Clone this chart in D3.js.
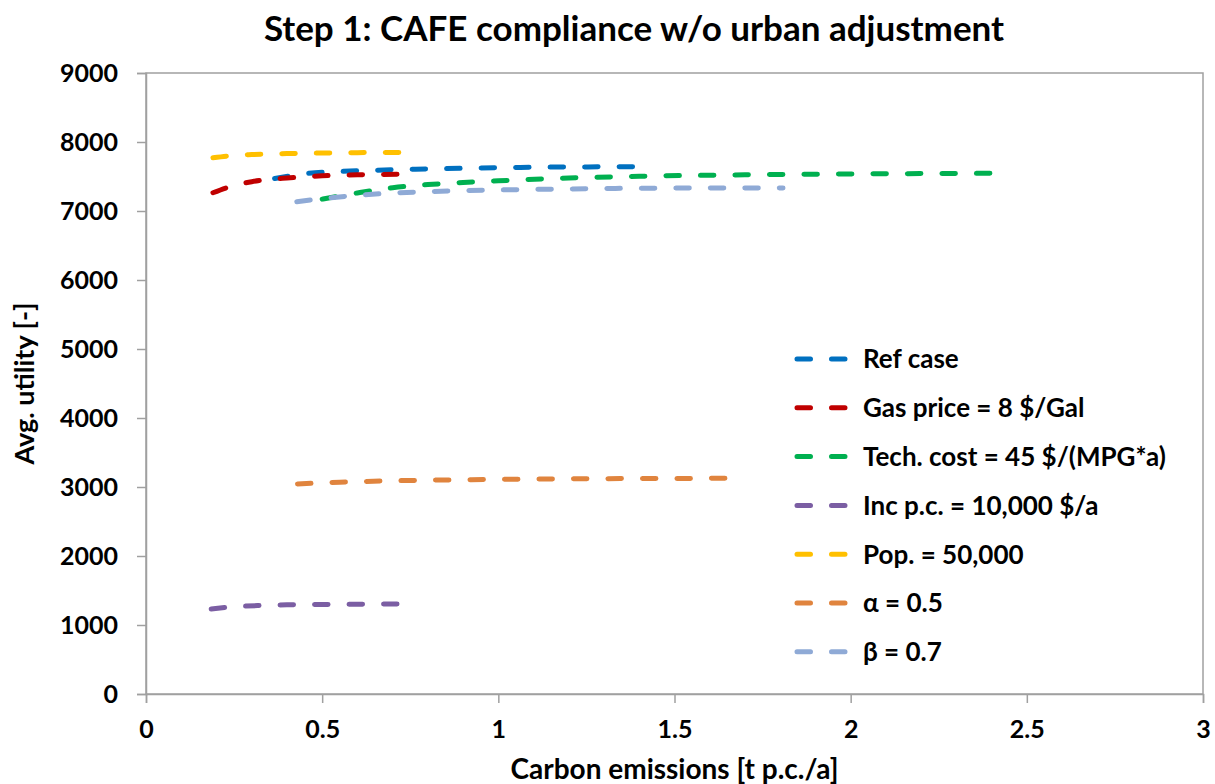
<!DOCTYPE html>
<html>
<head>
<meta charset="utf-8">
<script src="https://cdn.jsdelivr.net/npm/d3@7"></script>
<style>
  html, body { margin: 0; padding: 0; background: #fff; }
  svg { display: block; font-family: Lato, "Open Sans", sans-serif; font-weight: bold; }
</style>
</head>
<body>
<svg id="chart" width="1215" height="784"></svg>
<script>
// Scenario results: carbon emissions [t p.c./a] vs. average utility
const refX   = [0.365, 0.45, 0.55, 0.7, 0.8, 0.9, 1.0, 1.1, 1.25, 1.397];
const refY   = [7470, 7540, 7572, 7598, 7609, 7619, 7628, 7634, 7639, 7642];

const gasX   = [0.19, 0.25, 0.3, 0.35, 0.4, 0.5, 0.6, 0.73];
const gasY   = [7265, 7370, 7425, 7458, 7478, 7510, 7525, 7533];

const techX  = [0.5, 0.6, 0.7, 0.8, 0.9, 1.0, 1.2, 1.4, 1.7, 2.0, 2.396];
const techY  = [7172, 7262, 7338, 7383, 7413, 7438, 7478, 7503, 7524, 7537, 7546];

const incX   = [0.185, 0.25, 0.32, 0.4, 0.5, 0.6, 0.731];
const incY   = [1232, 1265, 1282, 1292, 1298, 1302, 1305];

const popX   = [0.19, 0.25, 0.3, 0.4, 0.5, 0.6, 0.735];
const popY   = [7772, 7805, 7818, 7832, 7840, 7846, 7850];

const alphaX = [0.43, 0.55, 0.7, 0.9, 1.1, 1.3, 1.666];
const alphaY = [3045, 3070, 3090, 3105, 3115, 3121, 3126];

const betaX  = [0.428, 0.5, 0.6, 0.7, 0.8, 1.0, 1.2, 1.4, 1.808];
const betaY  = [7135, 7178, 7228, 7260, 7281, 7305, 7320, 7330, 7335];

const seriesNames = ["Ref case", "Gas price = 8 $/Gal", "Tech. cost = 45 $/(MPG*a)",
                     "Inc p.c. = 10,000 $/a", "Pop. = 50,000", "α = 0.5", "β = 0.7"];
const seriesColors = ["#0070C0", "#C00000", "#00B050", "#7B5EA3", "#FFC000", "#E0843E", "#8FAAD6"];

const xTicks = [0, 0.5, 1, 1.5, 2, 2.5, 3];
const yTicks = [0, 1000, 2000, 3000, 4000, 5000, 6000, 7000, 8000, 9000];

const titleText = "Step 1: CAFE compliance w/o urban adjustment";
const xTitle = "Carbon emissions [t p.c./a]";
const yTitle = "Avg. utility [-]";

const seriesX = [refX, gasX, techX, incX, popX, alphaX, betaX];
const seriesY = [refY, gasY, techY, incY, popY, alphaY, betaY];
const series = seriesNames.map((name, i) => ({
  name, color: seriesColors[i],
  points: seriesX[i].map((x, j) => ({ x, y: seriesY[i][j] }))
}));

// Layout
const plot = { left: 146, top: 73, right: 1203, bottom: 694 };
const svg = d3.select("#chart");

const x = d3.scaleLinear().domain([0, 3]).range([plot.left, plot.right]);
const y = d3.scaleLinear().domain([0, 9000]).range([plot.bottom, plot.top]);

const axisColor = "#A0A0A0";
const dash = "13.5 21";

// Plot area frame
svg.append("rect")
  .attr("x", plot.left).attr("y", plot.top)
  .attr("width", plot.right - plot.left).attr("height", plot.bottom - plot.top)
  .attr("fill", "none").attr("stroke", axisColor).attr("stroke-width", 1.5);

// Axes
const xAxis = svg.append("g")
  .attr("transform", `translate(0,${plot.bottom})`)
  .call(d3.axisBottom(x).tickValues(xTicks).tickSize(9).tickPadding(17).tickFormat(d3.format("")));
const yAxis = svg.append("g")
  .attr("transform", `translate(${plot.left},0)`)
  .call(d3.axisLeft(y).tickValues(yTicks).tickSize(9).tickPadding(19).tickFormat(d3.format("")));

[xAxis, yAxis].forEach(g => {
  g.select(".domain").attr("stroke", axisColor).attr("stroke-width", 1.5);
  g.selectAll(".tick line").attr("stroke", axisColor).attr("stroke-width", 1.5);
  g.selectAll(".tick text")
    .attr("fill", "#000")
    .style("font-family", "Lato, 'Open Sans', sans-serif")
    .style("font-weight", "bold")
    .style("font-size", "25px");
});

// Series lines
const line = d3.line()
  .x(d => x(d.x))
  .y(d => y(d.y))
  .curve(d3.curveMonotoneX);

svg.append("g").selectAll("path")
  .data(series)
  .join("path")
  .attr("d", d => line(d.points))
  .attr("fill", "none")
  .attr("stroke", d => d.color)
  .attr("stroke-width", 5)
  .attr("stroke-linecap", "round")
  .attr("stroke-dasharray", dash);

// Legend
const legend = svg.append("g").attr("transform", "translate(795,359)");
const rowH = 48.8;
const rows = legend.selectAll("g")
  .data(series)
  .join("g")
  .attr("transform", (d, i) => `translate(0,${i * rowH})`);
rows.append("line")
  .attr("x1", 2).attr("x2", 55).attr("y1", 0).attr("y2", 0)
  .attr("stroke", d => d.color)
  .attr("stroke-width", 5)
  .attr("stroke-linecap", "round")
  .attr("stroke-dasharray", dash);
rows.append("text")
  .attr("x", 68).attr("y", 0).attr("dy", "0.36em")
  .style("font-size", "26px")
  .attr("fill", "#000")
  .text(d => d.name);

// Titles
svg.append("text")
  .attr("x", 634).attr("y", 41)
  .attr("text-anchor", "middle")
  .style("font-size", "35px")
  .attr("fill", "#000")
  .text(titleText);

svg.append("text")
  .attr("x", (plot.left + plot.right) / 2).attr("y", 779)
  .attr("text-anchor", "middle")
  .style("font-size", "28px")
  .attr("fill", "#000")
  .text(xTitle);

svg.append("text")
  .attr("transform", `translate(34,${(plot.top + plot.bottom) / 2}) rotate(-90)`)
  .attr("text-anchor", "middle")
  .style("font-size", "27px")
  .attr("fill", "#000")
  .text(yTitle);
</script>
</body>
</html>
